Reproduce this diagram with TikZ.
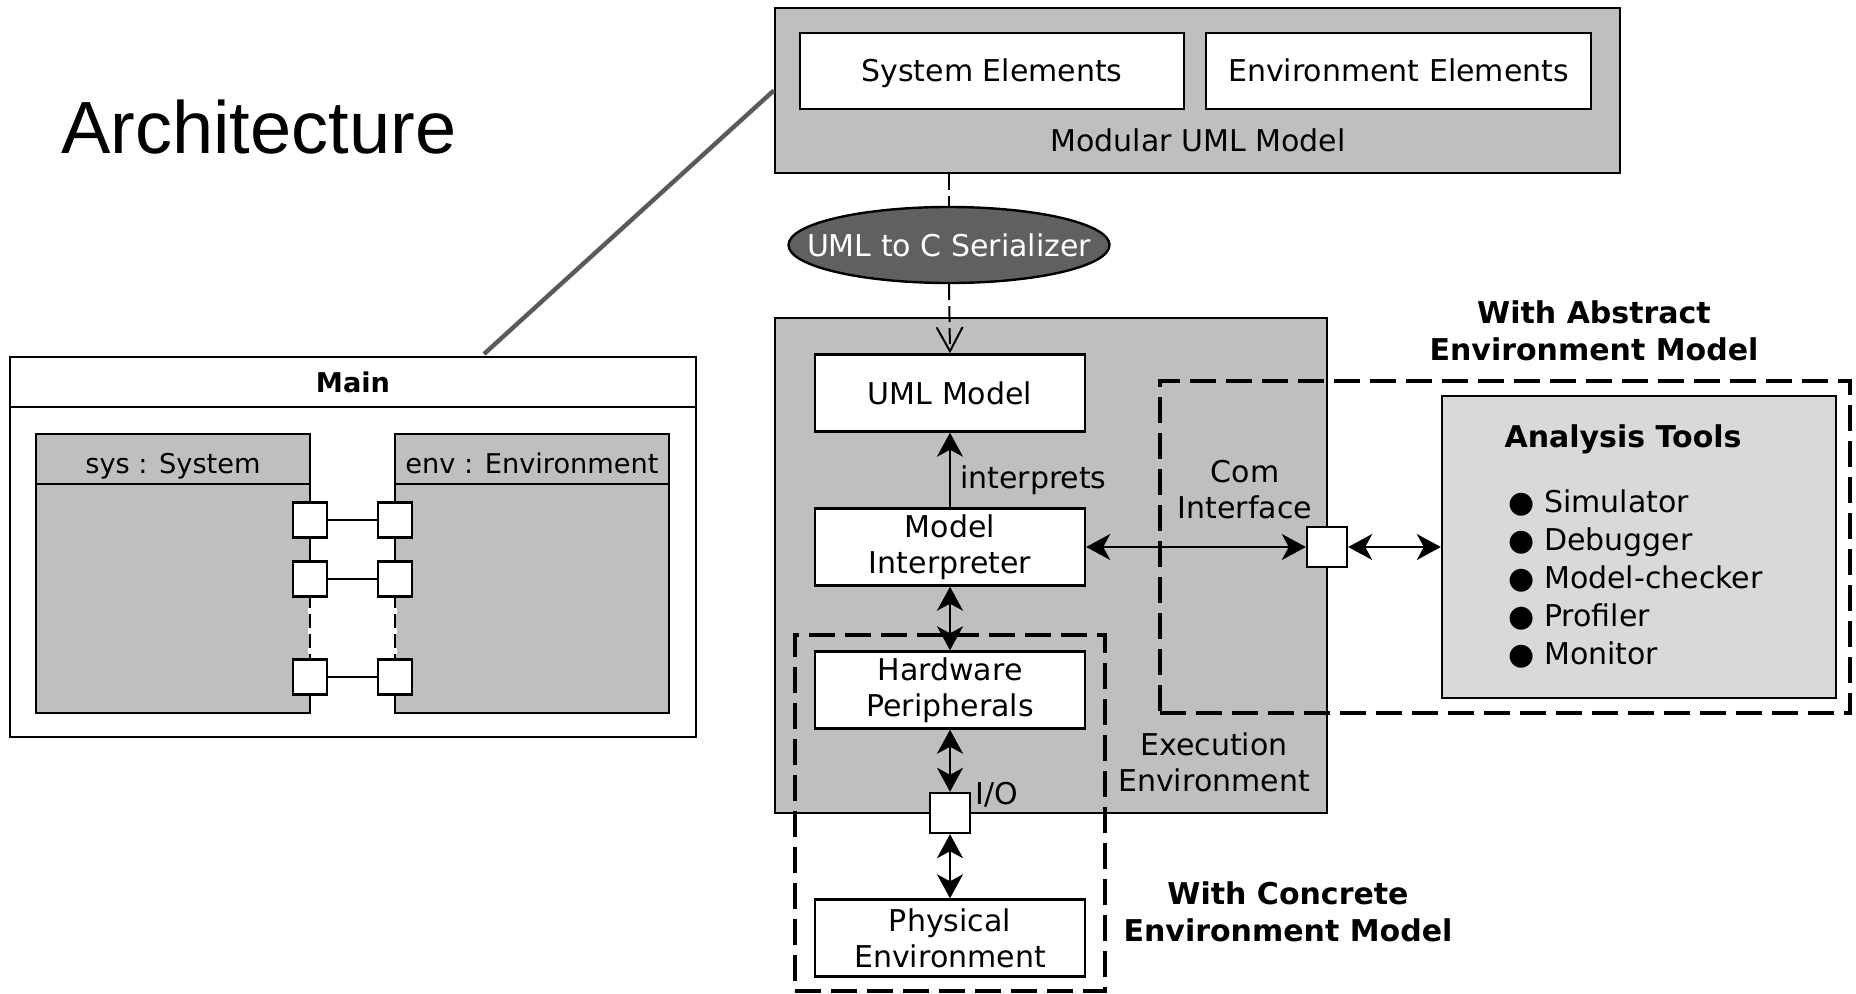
\documentclass[tikz,border=0pt]{standalone}
\usepackage{fontspec}
\setmainfont{DejaVu Sans}
\newfontfamily\archfont{Liberation Sans}
\usetikzlibrary{arrows.meta,shapes.geometric}
\definecolor{boxgray}{RGB}{191,191,191}
\definecolor{toolgray}{RGB}{217,217,217}
\definecolor{serialgray}{RGB}{96,96,96}
\definecolor{callgray}{RGB}{90,90,90}
\tikzset{
  box/.style={draw,line width=1.2pt,fill=white,inner sep=0pt,align=center,minimum width=135pt,minimum height=38.5pt},
  area/.style={draw,line width=1.2pt,fill=boxgray,inner sep=0pt},
  port/.style={draw,line width=1.2pt,fill=white,inner sep=0pt,minimum size=20pt},
  sport/.style={draw,line width=1.2pt,fill=white,inner sep=0pt,minimum width=17pt,minimum height=17.5pt},
  envframe/.style={draw,line width=2.2pt,dash pattern=on 13pt off 5pt,inner sep=0pt},
  dep/.style={line width=1pt,dash pattern=on 8pt off 3pt},
  flow/.style={line width=1.1pt,<->},
  hd/.style={font=\fontsize{15}{18.5}\selectfont\bfseries,align=center,inner sep=0pt},
  umlfont/.style={font=\fontsize{13.6}{16}\selectfont,text height=14pt,text depth=0pt}
}
\begin{document}
\begin{tikzpicture}[x=0.5pt,y=-0.5pt,font=\fontsize{15}{18}\selectfont,>={Stealth[length=12pt,width=13pt,inset=3.5pt]}]
\useasboundingbox (0,0) rectangle (1856,994);
\node[anchor=west,inner sep=0pt,font=\archfont\fontsize{37}{40}\selectfont] (arch) at (61,127) {Architecture};

\node[area,minimum width=422.5pt,minimum height=82.5pt] (mod) at (1197.5,90.5) {};
\node[box,minimum width=192pt,minimum height=38pt,text height=11pt,text depth=0pt] (sysel) at (992,71) {System Elements};
\node[box,minimum width=192.5pt,minimum height=38pt,text height=11pt,text depth=0pt] (envel) at (1398.5,71) {Environment Elements};
\node[inner sep=0pt] (modlbl) at (1198,140) {Modular UML Model};
\node[ellipse,draw,line width=1.2pt,fill=serialgray,inner sep=0pt,minimum width=160.5pt,minimum height=38pt] (ser) at (949,245) {};
\node[text=white,inner sep=0pt] (serlbl) at (ser) {UML to C Serializer};

\node[area,minimum width=276pt,minimum height=247.5pt] (exec) at (1051,565.5) {};
\node[envframe,minimum width=155pt,minimum height=178pt] (conc) at (950,813) {};
\node[envframe,minimum width=345pt,minimum height=166pt] (abs) at (1505,547) {};
\node[box] (uml) at (950,393) {UML Model};
\node[box] (mi) at (950,547) {Model\\Interpreter};
\node[box] (hw) at (950,690) {Hardware\\Peripherals};
\node[box] (phys) at (950,938) {Physical\\Environment};
\node[port] (io) at (950,813) {};
\node[port] (com) at (1327,547) {};
\node[draw,line width=1.2pt,fill=toolgray,minimum width=197pt,minimum height=151pt] (tools) at (1639,547) {};
\node[hd] (toolhd) at (1623,439) {Analysis Tools};
\node[anchor=west,align=left,inner sep=0pt,font=\fontsize{15}{19}\selectfont] (toollist) at (1508,579) {● Simulator\\● Debugger\\● Model-checker\\● Profiler\\● Monitor};

\node[align=center,inner sep=0pt] (execlbl) at (1214,762) {Execution\\Environment};
\node[align=center,inner sep=0pt] (comlbl) at (1245,490) {Com\\Interface};
\node[anchor=west,inner sep=0pt] (iolbl) at (975,795) {I/O};
\node[hd] (abslbl) at (1594,331) {With Abstract\\Environment Model};
\node[hd] (conclbl) at (1288,912) {With Concrete\\Environment Model};

\draw[dep] (ser.north |- mod.south) -- (ser.north);
\draw[dep,-{Straight Barb[length=12pt,width=13pt]}] (ser.south) -- (uml.north);
\draw[line width=1.1pt,->] (mi) -- (uml) node[pos=0.36,anchor=west,inner sep=0pt,xshift=4.5pt] (interp) {interprets};
\draw[flow] (mi) -- (hw);
\draw[flow] (hw) -- (io);
\draw[flow] (io) -- (phys);
\draw[flow] (mi) -- (com);
\draw[flow] (com) -- (tools);

\node[draw,line width=1.2pt,fill=white,minimum width=343pt,minimum height=190pt] (main) at (353,547) {};
\node[draw,line width=1.2pt,minimum width=343pt,minimum height=25pt,font=\fontsize{13.6}{16}\selectfont\bfseries] (mainhd) at (353,382) {Main};
\node[area,minimum width=137pt,minimum height=139.5pt] (sys) at (173,573.5) {};
\node[area,umlfont,minimum width=137pt,minimum height=25pt] (syshd) at (173,459) {sys : System};
\node[area,minimum width=137pt,minimum height=139.5pt] (env) at (532,573.5) {};
\node[area,umlfont,minimum width=137pt,minimum height=25pt] (envhd) at (532,459) {env : Environment};
\foreach \y/\n in {520/1,579/2,677/3} {
  \node[sport] (s\n) at (310,\y) {};
  \node[sport] (e\n) at (395,\y) {};
  \draw[line width=1pt] (s\n) -- (e\n);
}
\draw[white,line width=1.6pt,dash pattern=on 3pt off 7pt,dash phase=5pt] (s2.south) -- (s3.north);
\draw[white,line width=1.6pt,dash pattern=on 3pt off 7pt,dash phase=5pt] (e2.south) -- (e3.north);
\coordinate (tap) at (484,354);
\draw[callgray,line width=2.2pt] (tap) -- (mod.west);
\end{tikzpicture}
\end{document}
